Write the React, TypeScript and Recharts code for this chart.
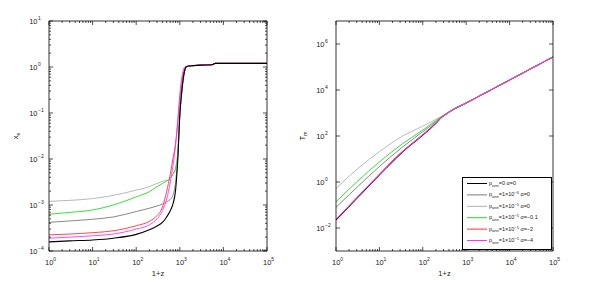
import React from "react";
import { LineChart, Line, XAxis, YAxis, Legend } from "recharts";

// 1+z grid for the ionisation fraction panel
const Z_XE = [1, 3, 10, 30, 100, 200, 300, 400, 500, 600, 700, 800, 900, 1000, 1100, 1200, 1300, 1400, 1600, 2000, 3000, 5500, 6500, 10000, 100000];

const XE_P0 = [1.58e-4, 1.66e-4, 1.74e-4, 1.9e-4, 2.3e-4, 2.9e-4, 3.5e-4, 4.2e-4, 5.5e-4, 7.4e-4, 1.07e-3, 2.1e-3, 1.0e-2, 0.089, 0.27, 0.56, 0.85, 1.0, 1.05, 1.07, 1.1, 1.12, 1.2, 1.2, 1.2];
const XE_P6 = [4.2e-4, 4.5e-4, 4.9e-4, 5.5e-4, 7.2e-4, 8.5e-4, 9.5e-4, 1.05e-3, 1.17e-3, 1.32e-3, 1.66e-3, 3.2e-3, 0.011, 0.089, 0.27, 0.56, 0.85, 1.0, 1.05, 1.07, 1.1, 1.12, 1.2, 1.2, 1.2];
const XE_P5 = [1.2e-3, 1.26e-3, 1.38e-3, 1.62e-3, 2.1e-3, 2.5e-3, 2.95e-3, 3.25e-3, 3.45e-3, 3.8e-3, 4.7e-3, 6.3e-3, 0.014, 0.089, 0.27, 0.56, 0.85, 1.0, 1.05, 1.07, 1.1, 1.12, 1.2, 1.2, 1.2];
const XE_A01 = [6.3e-4, 6.9e-4, 7.8e-4, 1.0e-3, 1.5e-3, 1.95e-3, 2.5e-3, 2.95e-3, 3.3e-3, 3.8e-3, 4.7e-3, 6.3e-3, 0.014, 0.089, 0.27, 0.56, 0.85, 1.0, 1.05, 1.07, 1.1, 1.12, 1.2, 1.2, 1.2];
const XE_A2 = [2.24e-4, 2.34e-4, 2.5e-4, 2.75e-4, 3.55e-4, 4.4e-4, 5.9e-4, 9.0e-4, 2.0e-3, 4.5e-3, 0.0105, 0.022, 0.063, 0.19, 0.43, 0.72, 0.93, 1.02, 1.05, 1.07, 1.1, 1.12, 1.2, 1.2, 1.2];
const XE_A4 = [1.9e-4, 2.0e-4, 2.14e-4, 2.34e-4, 3.0e-4, 3.7e-4, 5.0e-4, 7.6e-4, 1.35e-3, 3.0e-3, 7.4e-3, 0.02, 0.071, 0.25, 0.56, 0.85, 1.0, 1.03, 1.05, 1.07, 1.1, 1.12, 1.2, 1.2, 1.2];

// 1+z grid for the matter temperature panel
const Z_TM = [1, 3.16, 10, 31.6, 100, 200, 270, 400, 1000, 10000, 100000];

const TM_P0 = [0.0224, 0.214, 2.04, 17.8, 110, 355, 640, 1090, 2725, 27250, 272500];
const TM_P6 = [0.079, 0.63, 4.7, 29.5, 155, 417, 680, 1090, 2725, 27250, 272500];
const TM_P5 = [0.525, 3.8, 20.9, 91, 269, 525, 720, 1090, 2725, 27250, 272500];
const TM_A01 = [0.138, 1.1, 7.4, 41.7, 182, 468, 700, 1090, 2725, 27250, 272500];
const TM_A2 = [0.024, 0.229, 2.18, 19, 117, 370, 650, 1090, 2725, 27250, 272500];
const TM_A4 = [0.0235, 0.222, 2.1, 18.4, 113, 362, 645, 1090, 2725, 27250, 272500];

// legend text pieces
const KEYS = ["p0", "p6", "p5", "a01", "a2", "a4"];
const COLORS = ["#000000", "#7a7a7a", "#b0b0b0", "#22dd22", "#ff3333", "#ff33ff"];
const P_MANT = ["0", "1×10", "1×10", "1×10", "1×10", "1×10"];
const P_EXP = ["", "−6", "−5", "−5", "−5", "−5"];
const ALPHA = ["0", "0", "0", "−0.1", "−2", "−4"];

const X_MAJOR = [1, 10, 100, 1000, 10000, 100000];
const XE_MAJOR = [1e-4, 1e-3, 1e-2, 1e-1, 1, 10];
const TM_MAJOR = [1e-2, 1, 100, 1e4, 1e6];

const withMinor = (majors: number[]) => {
  const out: number[] = [];
  majors.forEach((d, i) => {
    out.push(d);
    if (i < majors.length - 1) for (let m = 2; m < 10; m++) out.push(d * m);
  });
  return out;
};

const X_TICKS = withMinor(X_MAJOR);
const XE_TICKS = withMinor(XE_MAJOR);

const xeRows = Z_XE.map((z, i) => ({ z, p0: XE_P0[i], p6: XE_P6[i], p5: XE_P5[i], a01: XE_A01[i], a2: XE_A2[i], a4: XE_A4[i] }));
const tmRows = Z_TM.map((z, i) => ({ z, p0: TM_P0[i], p6: TM_P6[i], p5: TM_P5[i], a01: TM_A01[i], a2: TM_A2[i], a4: TM_A4[i] }));

const FONT = "'Liberation Sans', Arial, sans-serif";
const TXT = "#222";

const expOf = (v: number) => {
  const l = Math.log10(v);
  const e = Math.round(l);
  return { e, major: Math.abs(l - e) < 1e-6 };
};
const supText = (e: number) => (e < 0 ? "−" + Math.abs(e) : String(e));

function XTick(props: any) {
  const { x, y, payload, side } = props;
  const { e, major } = expOf(payload.value);
  const dir = side === "top" ? 1 : -1;
  return (
    <g>
      <line x1={x} x2={x} y1={y} y2={y + dir * (major ? 4 : 2)} stroke="#000" strokeWidth={0.7} />
      {side === "bottom" && major && (
        <g fontFamily={FONT} fill={TXT}>
          <text x={x - 4} y={y + 14} fontSize={7.5}>10</text>
          <text x={x + 4.2} y={y + 10} fontSize={5}>{supText(e)}</text>
        </g>
      )}
    </g>
  );
}

function YTick(props: any) {
  const { x, y, payload, side } = props;
  const { e, major } = expOf(payload.value);
  const dir = side === "left" ? 1 : -1;
  return (
    <g>
      <line x1={x} x2={x + dir * (major ? 4 : 2)} y1={y} y2={y} stroke="#000" strokeWidth={0.7} />
      {side === "left" && major && (
        <g fontFamily={FONT} fill={TXT}>
          <text x={x - 11.5} y={y + 3} fontSize={7.5} textAnchor="end">10</text>
          <text x={x - 11} y={y - 1} fontSize={5}>{supText(e)}</text>
        </g>
      )}
    </g>
  );
}

const renderLegend = () => (
  <svg width={90} height={73} style={{ display: "block" }}>
    <rect x={0.5} y={0.5} width={89} height={72} fill="#fff" stroke="#000" strokeWidth={1} />
    {KEYS.map((k, i) => {
      const y = 6.5 + i * 11.4;
      return (
        <g key={k}>
          <line x1={5} x2={25} y1={y} y2={y} stroke={COLORS[i]} strokeWidth={1} />
          <text x={27} y={y + 1.5} fontSize={5.5} fontFamily={FONT} fill={TXT}>
            p<tspan fontSize={4} dy={1.5}>ann</tspan>
            <tspan fontSize={5.5} dy={-1.5}>={P_MANT[i]}</tspan>
            {P_EXP[i] && <tspan fontSize={4} dy={-2}>{P_EXP[i]}</tspan>}
            <tspan fontSize={5.5} dy={P_EXP[i] ? 2 : 0}> α={ALPHA[i]}</tspan>
          </text>
        </g>
      );
    })}
  </svg>
);

function Panel(props: { rows: any[]; yDomain: number[]; yTicks: number[]; yLabel: string; ySub: string; left: number; width: number; yAxisW: number; rightPad: number; legend?: boolean; order: string[] }) {
  const { rows, yDomain, yTicks, yLabel, ySub, left, width, yAxisW, rightPad, legend, order } = props;
  const plotL = yAxisW;
  const plotR = width - rightPad;
  return (
    <div style={{ position: "absolute", left, top: 0 }}>
      <LineChart width={width} height={284} data={rows} margin={{ top: 20, right: rightPad - 1, left: 0, bottom: 0 }}>
        <XAxis xAxisId="b" type="number" dataKey="z" scale="log" domain={[1, 100000]} allowDataOverflow ticks={X_TICKS} interval={0}
          height={33} tickSize={0} tickMargin={0} tickLine={false} axisLine={{ stroke: "#000", strokeWidth: 0.8 }}
          tick={(p: any) => <XTick {...p} side="bottom" />}
          label={() => (
            <text x={(plotL + plotR) / 2} y={276} textAnchor="middle" fontSize={7.5} fontFamily={FONT} fill={TXT}>1+z</text>
          )} />
        <XAxis xAxisId="t" orientation="top" type="number" dataKey="z" scale="log" domain={[1, 100000]} allowDataOverflow ticks={X_TICKS} interval={0}
          height={1} tickSize={0} tickMargin={0} tickLine={false} axisLine={{ stroke: "#000", strokeWidth: 0.8 }}
          tick={(p: any) => <XTick {...p} side="top" />} />
        <YAxis yAxisId="l" type="number" scale="log" domain={yDomain} allowDataOverflow ticks={yTicks} interval={0}
          width={yAxisW} tickSize={0} tickMargin={0} tickLine={false} axisLine={{ stroke: "#000", strokeWidth: 0.8 }}
          tick={(p: any) => <YTick {...p} side="left" />}
          label={() => (
            <text transform={`translate(${plotL - 31},136) rotate(-90)`} fontSize={7.5} fontFamily={FONT} fill={TXT} textAnchor="middle">
              {yLabel}<tspan fontSize={5} dy={2}>{ySub}</tspan>
            </text>
          )} />
        <YAxis yAxisId="r" orientation="right" type="number" scale="log" domain={yDomain} allowDataOverflow ticks={yTicks} interval={0}
          width={1} tickSize={0} tickMargin={0} tickLine={false} axisLine={{ stroke: "#000", strokeWidth: 0.8 }}
          tick={(p: any) => <YTick {...p} side="right" />} />
        {order.map((k) => (
          <Line key={k} xAxisId="b" yAxisId="l" type="monotone" dataKey={k} stroke={COLORS[KEYS.indexOf(k)]}
            strokeWidth={k === "p0" ? 1.1 : 0.9} dot={false} isAnimationActive={false} />
        ))}
        {legend && (
          <Legend layout="vertical" align="center" verticalAlign="middle" content={renderLegend}
            wrapperStyle={{ position: "absolute", left: 167, top: 177, width: 90, height: 73 }} />
        )}
      </LineChart>
    </div>
  );
}

export default function App() {
  return (
    <div style={{ position: "absolute", left: 0, top: 0, width: 615, height: 284, background: "#fff", overflow: "hidden" }}>
      <Panel rows={xeRows} yDomain={[1e-4, 10]} yTicks={XE_TICKS} yLabel="x" ySub="e" left={0} width={300} yAxisW={49} rightPad={33}
        order={["p6", "p5", "a01", "a2", "a4", "p0"]} />
      <Panel rows={tmRows} yDomain={[1e-3, 1e7]} yTicks={TM_MAJOR} yLabel="T" ySub="m" left={295} width={320} yAxisW={41} rightPad={62}
        legend order={["p0", "p6", "p5", "a01", "a2", "a4"]} />
    </div>
  );
}
